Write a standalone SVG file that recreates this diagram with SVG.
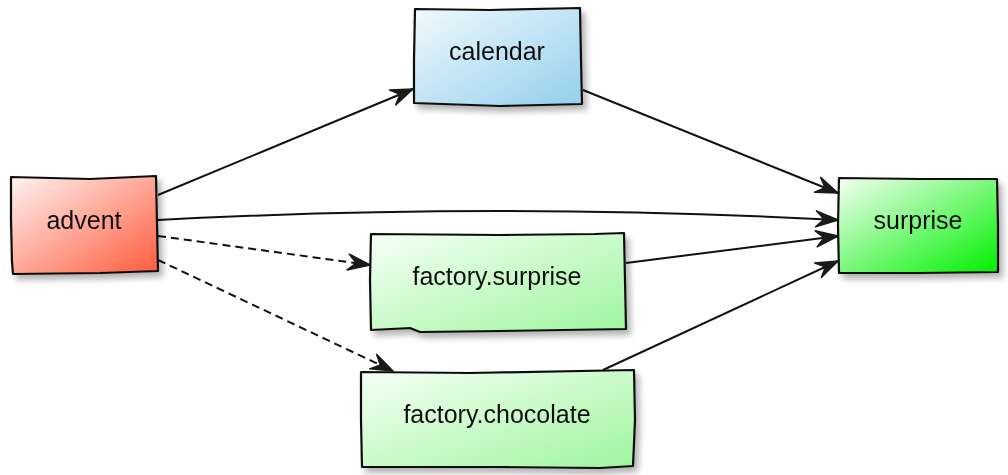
<svg xmlns="http://www.w3.org/2000/svg" width="1008" height="475" viewBox="0 0 1008 475">
<defs>
<linearGradient id="gRed" x1="0" y1="0" x2="1" y2="1"><stop offset="0" stop-color="#fff4f2"/><stop offset="1" stop-color="#ff5a3c"/></linearGradient>
<linearGradient id="gBlue" x1="0" y1="0" x2="1" y2="1"><stop offset="0" stop-color="#f2f9fd"/><stop offset="1" stop-color="#92cfec"/></linearGradient>
<linearGradient id="gLime" x1="0" y1="0" x2="1" y2="1"><stop offset="0" stop-color="#f4fff4"/><stop offset="1" stop-color="#00f000"/></linearGradient>
<linearGradient id="gPale" x1="0" y1="0" x2="1" y2="1"><stop offset="0" stop-color="#f6fff6"/><stop offset="1" stop-color="#9ef59e"/></linearGradient>
<filter id="sh" x="-10%" y="-10%" width="130%" height="140%"><feGaussianBlur in="SourceAlpha" stdDeviation="3"/><feOffset dx="4" dy="5" result="b"/><feComponentTransfer><feFuncA type="linear" slope="0.3"/></feComponentTransfer><feMerge><feMergeNode/><feMergeNode in="SourceGraphic"/></feMerge></filter>
<marker id="arr" viewBox="0 0 24 18" refX="23" refY="9" markerWidth="24" markerHeight="18" markerUnits="userSpaceOnUse" orient="auto"><path d="M1,1 L23,9 L1,17 L9,9 Z" fill="#1a1a1a" stroke="#1a1a1a" stroke-width="1.5" stroke-linejoin="round"/></marker>
</defs>
<style>
.box{stroke:#111;stroke-width:2.2;stroke-linejoin:round}
.lbl{font-family:"Liberation Sans","DejaVu Sans",sans-serif;font-size:25px;fill:#111;text-anchor:middle}
.con{fill:none;stroke:#111;stroke-width:2}
.dash{stroke-dasharray:8 5}
</style>
<g id="connectors">
<path class="con" d="M158,195 L413,89" marker-end="url(#arr)"/>
<path class="con" d="M158,220 Q500,202 838,220" marker-end="url(#arr)"/>
<path class="con dash" d="M158,236 L370,265" marker-end="url(#arr)"/>
<path class="con dash" d="M158,260 L393,371" marker-end="url(#arr)"/>
<path class="con" d="M583,90 L838,193" marker-end="url(#arr)"/>
<path class="con" d="M626,263 L838,236" marker-end="url(#arr)"/>
<path class="con" d="M603,370 L838,261" marker-end="url(#arr)"/>
</g>
<g id="advent" filter="url(#sh)">
<path class="box" fill="url(#gRed)" d="M11,177 L90,179 L156,176 L157,224 L158,271 L100,273 L13,274 L12,262 L11,220 Z"/>
<text class="lbl" x="84" y="229">advent</text>
</g>
<g id="calendar" filter="url(#sh)">
<path class="box" fill="url(#gBlue)" d="M415,9 L490,10 L580,8 L581,60 L582,104 L500,106 L414,103 L414,60 Z"/>
<text class="lbl" x="497" y="60">calendar</text>
</g>
<g id="surprise" filter="url(#sh)">
<path class="box" fill="url(#gLime)" d="M839,178 L920,179 L997,179 L998,225 L998,272 L920,273 L839,273 L838,225 Z"/>
<text class="lbl" x="918" y="229">surprise</text>
</g>
<g id="factory.surprise" filter="url(#sh)">
<path class="box" fill="url(#gPale)" d="M371,234 L500,235 L595,234 L624,233 L625,280 L626,329 L500,331 L420,332 L410,328 L371,330 L370,280 Z"/>
<text class="lbl" x="497" y="285">factory.surprise</text>
</g>
<g id="factory.chocolate" filter="url(#sh)">
<path class="box" fill="url(#gPale)" d="M361,372 L470,373 L634,370 L635,420 L633,466 L600,468 L500,467 L362,467 L361,420 Z"/>
<text class="lbl" x="497" y="423">factory.chocolate</text>
</g>
</svg>
